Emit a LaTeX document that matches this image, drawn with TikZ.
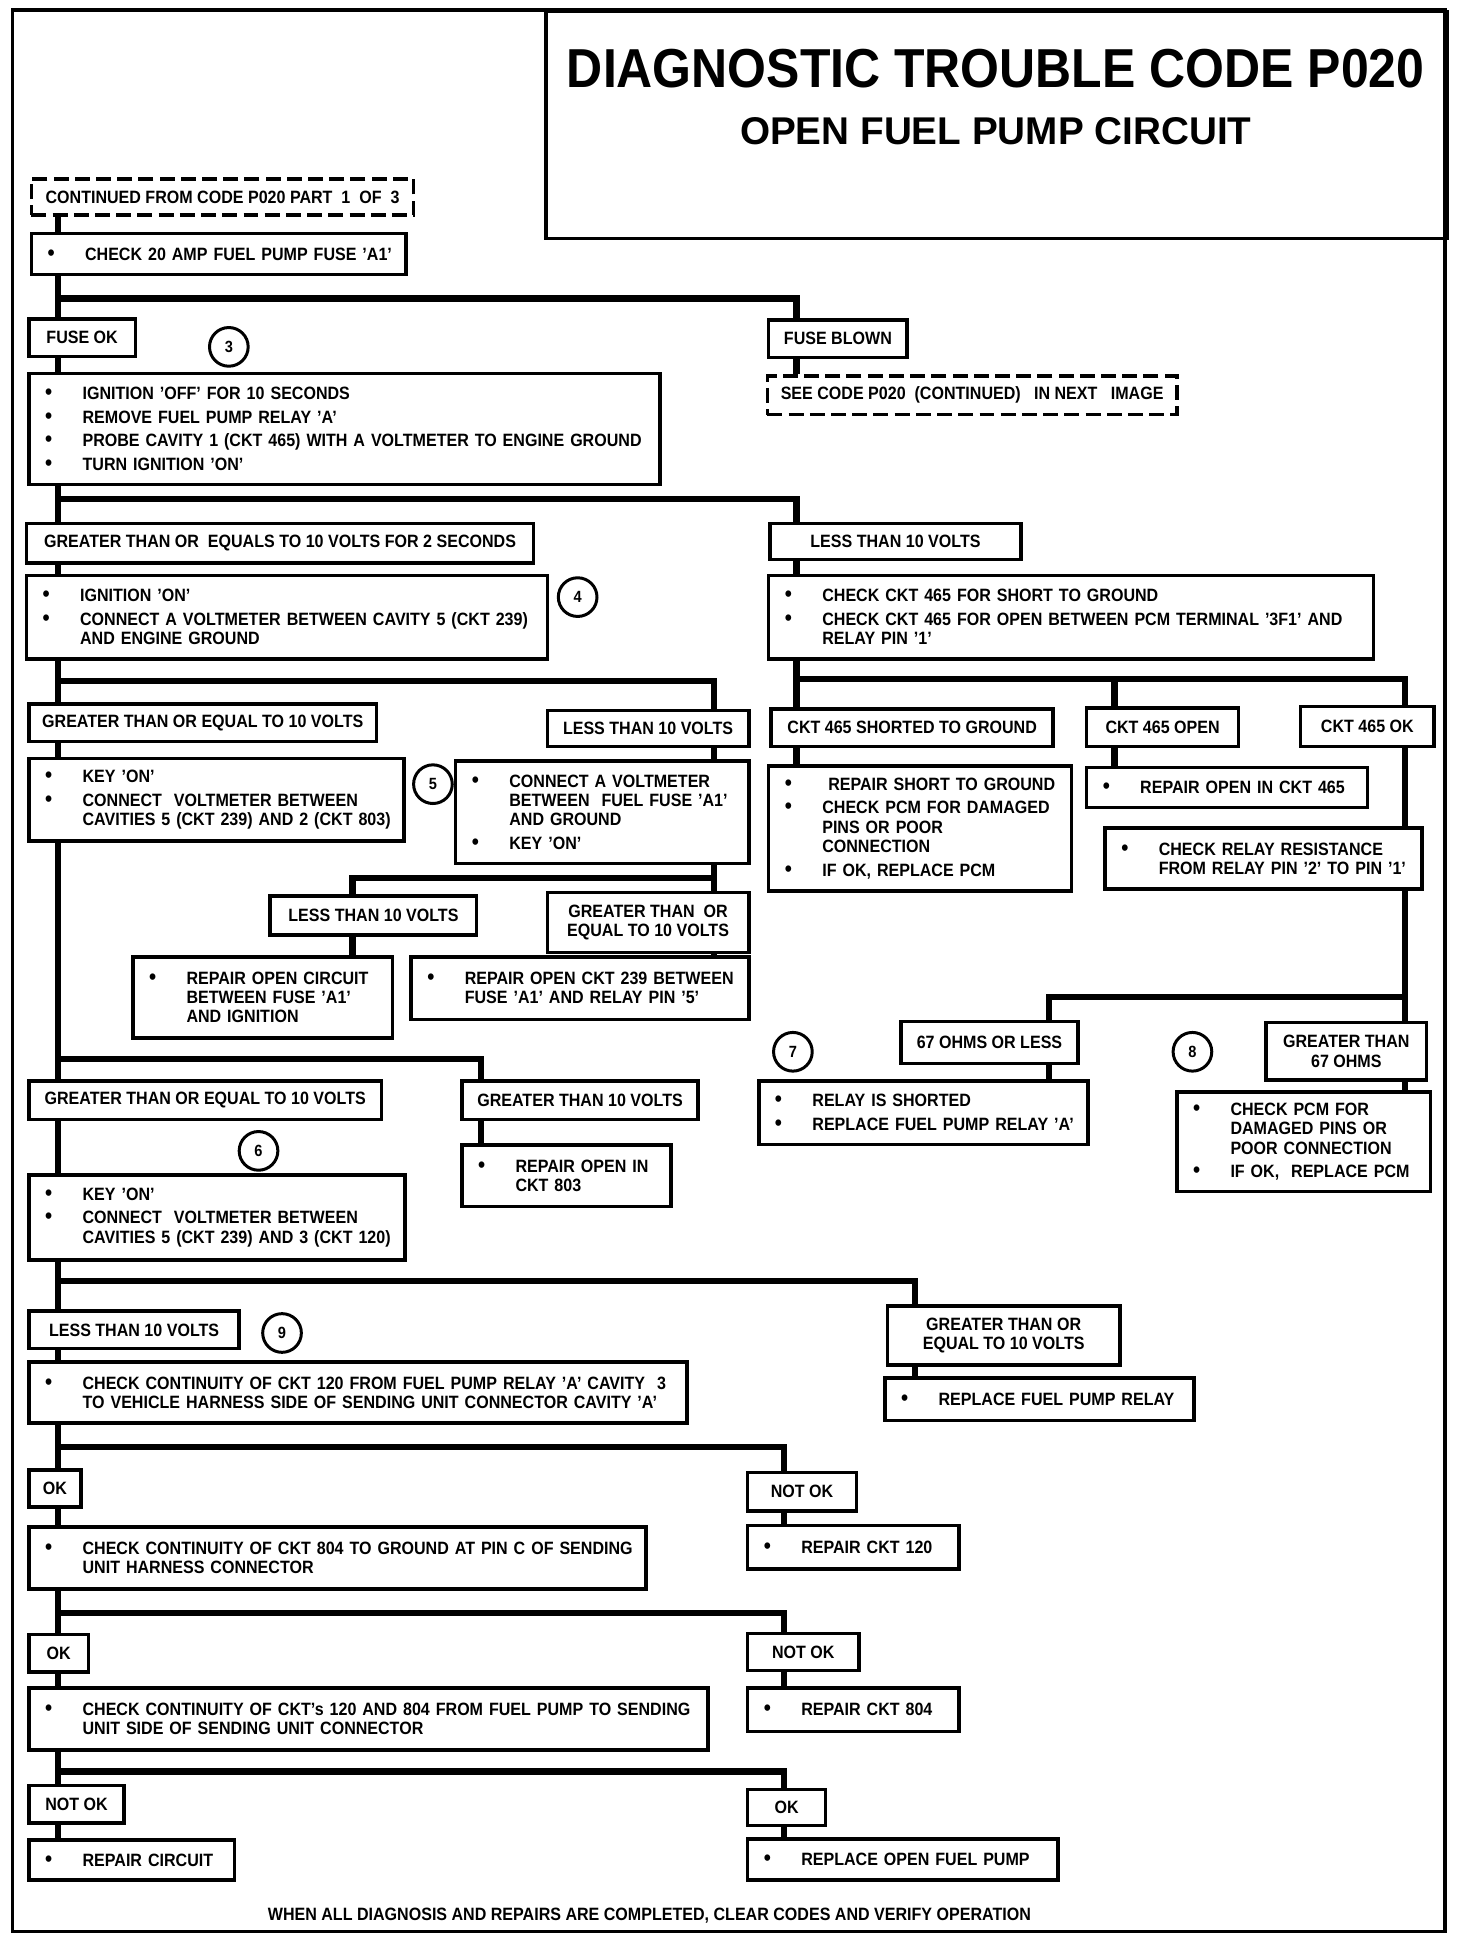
\documentclass[tikz,border=0pt]{standalone}
\usepackage{fontspec}
\setmainfont{Liberation Sans}[FakeStretch=0.9]
\newfontfamily\titlefont{Liberation Sans}[FakeStretch=0.91]
\newfontfamily\subfont{Liberation Sans}
\usetikzlibrary{backgrounds}

% bullet line and continued line inside the step boxes
\newcommand{\bitem}[1]{\mbox{\makebox[30pt][l]{\fontsize{18}{15.5}\selectfont\textbullet}#1}}
\newcommand{\bcont}[1]{\mbox{\hspace*{30pt}#1}}

\begin{document}
\begin{tikzpicture}[x=0.9915pt,y=-0.993pt,
  every node/.style={font=\bfseries\fontsize{14.3}{15.5}\selectfont},
  box/.style 2 args={draw,fill=white,line width=2.8pt,anchor=north west,
    inner xsep=13pt,inner ysep=2pt,minimum width=0.9915*#1pt,minimum height=#2pt,
    text width=0.9915*#1pt-26pt,align=left},
  lab/.style 2 args={draw,fill=white,line width=2.8pt,anchor=north west,
    inner sep=2pt,minimum width=0.9915*#1pt,minimum height=#2pt,align=center},
  cont/.style 2 args={lab={#1}{#2},dash pattern=on 12pt off 5pt},
  num/.style={draw,fill=white,circle,line width=2.4pt,minimum size=31pt,
    inner sep=0pt,font=\bfseries\fontsize{13}{13}\selectfont},
  wire/.style={line width=5pt}]

\useasboundingbox (0,0) rectangle (1190.1,1566);

% frame and title
\draw[line width=2.8pt] (10,8) rectangle (1168,1559);
\node[draw,line width=2.8pt,anchor=north west,minimum width=722pt,minimum height=182pt] (titlebox) at (440,8) {};
\node (title) at (805,55) {\titlefont\fontsize{44}{44}\selectfont DIAGNOSTIC TROUBLE CODE P020};
\node (subtitle) at (805,106) {\subfont\fontsize{31}{31}\selectfont OPEN FUEL PUMP CIRCUIT};

% columns and branch points
\coordinate (xl) at (47,0);
\coordinate (xr) at (644,0);
\coordinate (xs) at (577,0);
\coordinate (xt) at (285,0);
\coordinate (xu) at (389,0);
\coordinate (xo) at (901,0);
\coordinate (xk) at (1136,0);
\coordinate (xm) at (848,0);
\coordinate (xg) at (740,0);
\coordinate (xn) at (634,0);
\coordinate (b1) at (47,241);
\coordinate (b2) at (47,403);
\coordinate (b3) at (47,550);
\coordinate (b4) at (644,548);
\coordinate (b5) at (1136,805);
\coordinate (b6) at (577,709);
\coordinate (b7) at (47,855);
\coordinate (b8) at (47,1034);
\coordinate (b9) at (47,1168);
\coordinate (b10) at (47,1302);
\coordinate (b11) at (47,1430);

% fuse check
\node[cont={309}{29}] (contd) at (24,143) {CONTINUED FROM CODE P020 PART\ \ 1\ \ OF\ \ 3};
\node[box={303}{33}] (chkfuse) at (24,187) {\bitem{CHECK 20 AMP FUEL PUMP FUSE 'A1'}};
\node[lab={86}{30}] (fuseok) at (22,256) {FUSE OK};
\node[num] (n3) at (185,280) {3};
\node[box={510}{89}] (step3) at (22,300) {\bitem{IGNITION 'OFF' FOR 10 SECONDS}\\[3.5pt]\bitem{REMOVE FUEL PUMP RELAY 'A'}\\[3.5pt]\bitem{PROBE CAVITY 1 (CKT 465) WITH A VOLTMETER TO ENGINE GROUND}\\[3.5pt]\bitem{TURN IGNITION 'ON'}};
\node[lab={112}{30}] (fuseblown) at (620,257) {FUSE BLOWN};
\node[cont={331}{31}] (seenext) at (619,302) {SEE CODE P020\ \ (CONTINUED)\ \ \ IN NEXT\ \ \ IMAGE};

% cavity 1 voltage
\node[lab={410}{32}] (ge2s) at (20,421) {GREATER THAN OR\ \ EQUALS TO 10 VOLTS FOR 2 SECONDS};
\node[lab={203}{29}] (lt1) at (621,421) {LESS THAN 10 VOLTS};
\node[box={421}{67}] (step4) at (20,463) {\bitem{IGNITION 'ON'}\\[3.5pt]\bitem{CONNECT A VOLTMETER BETWEEN CAVITY 5 (CKT 239)}\\\bcont{AND ENGINE GROUND}};
\node[num] (n4) at (467,482) {4};
\node[box={489}{67}] (chk465) at (620,463) {\bitem{CHECK CKT 465 FOR SHORT TO GROUND}\\[3.5pt]\bitem{CHECK CKT 465 FOR OPEN BETWEEN PCM TERMINAL '3F1' AND}\\\bcont{RELAY PIN '1'}};

% cavity 5 voltage
\node[lab={281}{30}] (ge1) at (22,567) {GREATER THAN OR EQUAL TO 10 VOLTS};
\node[lab={163}{29}] (lt2) at (441,572) {LESS THAN 10 VOLTS};
\node[lab={228}{30}] (short) at (622,571) {CKT 465 SHORTED TO GROUND};
\node[lab={123}{31}] (open) at (877,570) {CKT 465 OPEN};
\node[lab={108}{32}] (ok465) at (1050,569) {CKT 465 OK};
\node[box={303}{66}] (step5a) at (22,611) {\bitem{KEY 'ON'}\\[3.5pt]\bitem{CONNECT\ \ VOLTMETER BETWEEN}\\\bcont{CAVITIES 5 (CKT 239) AND 2 (CKT 803)}};
\node[num] (n5) at (350,633) {5};
\node[box={237}{82}] (step5b) at (367,613) {\bitem{CONNECT A VOLTMETER}\\\bcont{BETWEEN\ \ FUEL FUSE 'A1'}\\\bcont{AND GROUND}\\[3.5pt]\bitem{KEY 'ON'}};
\node[box={245}{100}] (repshort) at (620,617) {\bitem{\ REPAIR SHORT TO GROUND}\\[3.5pt]\bitem{CHECK PCM FOR DAMAGED}\\\bcont{PINS OR POOR}\\\bcont{CONNECTION}\\[3.5pt]\bitem{IF OK, REPLACE PCM}};
\node[box={227}{32}] (repopen) at (877,618) {\bitem{REPAIR OPEN IN CKT 465}};
\node[box={256}{49}] (relayres) at (892,667) {\bitem{CHECK RELAY RESISTANCE}\\\bcont{FROM RELAY PIN '2' TO PIN '1'}};

% fuse A1 voltage
\node[lab={167}{31}] (lt3) at (217,722) {LESS THAN 10 VOLTS};
\node[lab={163}{48}] (ge3) at (441,719) {GREATER THAN\ \ OR\\EQUAL TO 10 VOLTS};
\node[box={210}{65}] (repign) at (106,771) {\bitem{REPAIR OPEN CIRCUIT}\\\bcont{BETWEEN FUSE 'A1'}\\\bcont{AND IGNITION}};
\node[box={273}{50}] (rep239) at (331,771) {\bitem{REPAIR OPEN CKT 239 BETWEEN}\\\bcont{FUSE 'A1' AND RELAY PIN '5'}};

% cavities 5 and 2
\node[lab={285}{31}] (ge4) at (22,871) {GREATER THAN OR EQUAL TO 10 VOLTS};
\node[lab={191}{31}] (gt5) at (372,871) {GREATER THAN 10 VOLTS};
\node[num] (n6) at (209,929) {6};
\node[box={169}{49}] (rep803) at (372,923) {\bitem{REPAIR OPEN IN}\\\bcont{CKT 803}};
\node[box={304}{68}] (step6) at (22,947) {\bitem{KEY 'ON'}\\[3.5pt]\bitem{CONNECT\ \ VOLTMETER BETWEEN}\\\bcont{CAVITIES 5 (CKT 239) AND 3 (CKT 120)}};

% relay resistance
\node[lab={143}{34}] (le67) at (727,823) {67 OHMS OR LESS};
\node[num] (n7) at (641,849) {7};
\node[box={266}{51}] (shorted) at (612,871) {\bitem{RELAY IS SHORTED}\\[3.5pt]\bitem{REPLACE FUEL PUMP RELAY 'A'}};
\node[num] (n8) at (964,849) {8};
\node[lab={130}{46}] (gt67) at (1022,824) {GREATER THAN\\67 OHMS};
\node[box={205}{80}] (pcm) at (950,880) {\bitem{CHECK PCM FOR}\\\bcont{DAMAGED PINS OR}\\\bcont{POOR CONNECTION}\\[3.5pt]\bitem{IF OK,\ \ REPLACE PCM}};

% cavities 5 and 3
\node[lab={170}{30}] (lt6) at (22,1057) {LESS THAN 10 VOLTS};
\node[num] (n9) at (228,1076) {9};
\node[box={532}{49}] (step9) at (22,1098) {\bitem{CHECK CONTINUITY OF CKT 120 FROM FUEL PUMP RELAY 'A' CAVITY\ \ 3}\\\bcont{TO VEHICLE HARNESS SIDE OF SENDING UNIT CONNECTOR CAVITY 'A'}};
\node[lab={188}{47}] (ge6) at (716,1053) {GREATER THAN OR\\EQUAL TO 10 VOLTS};
\node[box={250}{34}] (reprelay) at (714,1111) {\bitem{REPLACE FUEL PUMP RELAY}};

% continuity checks
\node[lab={42}{30}] (ok1) at (22,1185) {OK};
\node[lab={88}{31}] (nok1) at (603,1187) {NOT OK};
\node[box={499}{50}] (chk804) at (22,1231) {\bitem{CHECK CONTINUITY OF CKT 804 TO GROUND AT PIN C OF SENDING}\\\bcont{UNIT HARNESS CONNECTOR}};
\node[box={171}{35}] (rep120) at (603,1230) {\bitem{REPAIR CKT 120}};
\node[lab={48}{30}] (ok2) at (22,1318) {OK};
\node[lab={90}{30}] (nok2) at (603,1317) {NOT OK};
\node[box={549}{50}] (chkpump) at (22,1361) {\bitem{CHECK CONTINUITY OF CKT's 120 AND 804 FROM FUEL PUMP TO SENDING}\\\bcont{UNIT SIDE OF SENDING UNIT CONNECTOR}};
\node[box={171}{35}] (rep804) at (603,1361) {\bitem{REPAIR CKT 804}};
\node[lab={77}{30}] (nok3) at (22,1440) {NOT OK};
\node[lab={63}{29}] (ok3) at (603,1443) {OK};
\node[box={166}{32}] (repcirc) at (22,1484) {\bitem{REPAIR CIRCUIT}};
\node[box={251}{33}] (reppump) at (603,1483) {\bitem{REPLACE OPEN FUEL PUMP}};

\node (footer) at (525,1546) {WHEN ALL DIAGNOSIS AND REPAIRS ARE COMPLETED, CLEAR CODES AND VERIFY OPERATION};

% connectors
\begin{scope}[on background layer]
\draw[wire] (contd.south -| xl) -- (chkfuse.north -| xl);
\draw[wire] (chkfuse.south -| xl) -- (fuseok.north -| xl);
\draw[wire] (b1) -| (fuseblown.north -| xr);
\draw[wire] (fuseok.south -| xl) -- (step3.north -| xl);
\draw[wire] (fuseblown.south -| xr) -- (seenext.north -| xr);
\draw[wire] (step3.south -| xl) -- (ge2s.north -| xl);
\draw[wire] (b2) -| (lt1.north -| xr);
\draw[wire] (ge2s.south -| xl) -- (step4.north -| xl);
\draw[wire] (lt1.south -| xr) -- (chk465.north -| xr);
\draw[wire] (step4.south -| xl) -- (ge1.north -| xl);
\draw[wire] (b3) -| (lt2.north -| xs);
\draw[wire] (ge1.south -| xl) -- (step5a.north -| xl);
\draw[wire] (lt2.south -| xs) -- (step5b.north -| xs);
\draw[wire] (chk465.south -| xr) -- (short.north -| xr);
\draw[wire] (b4) -| (ok465.north -| xk);
\draw[wire] (b4 -| xo) -- (open.north -| xo);
\draw[wire] (short.south -| xr) -- (repshort.north -| xr);
\draw[wire] (open.south -| xo) -- (repopen.north -| xo);
\draw[wire] (ok465.south -| xk) -- (relayres.north -| xk);
\draw[wire] (relayres.south -| xk) -- (b5);
\draw[wire] (b5) -| (le67.north -| xm);
\draw[wire] (b5) -- (gt67.north -| xk);
\draw[wire] (le67.south -| xm) -- (shorted.north -| xm);
\draw[wire] (gt67.south -| xk) -- (pcm.north -| xk);
\draw[wire] (step5b.south -| xs) -- (b6);
\draw[wire] (b6) -| (lt3.north -| xt);
\draw[wire] (b6) -- (ge3.north -| xs);
\draw[wire] (lt3.south -| xt) -- (repign.north -| xt);
\draw[wire] (ge3.south -| xs) -- (rep239.north -| xs);
\draw[wire] (step5a.south -| xl) -- (ge4.north -| xl);
\draw[wire] (b7) -| (gt5.north -| xu);
\draw[wire] (ge4.south -| xl) -- (step6.north -| xl);
\draw[wire] (gt5.south -| xu) -- (rep803.north -| xu);
\draw[wire] (step6.south -| xl) -- (lt6.north -| xl);
\draw[wire] (b8) -| (ge6.north -| xg);
\draw[wire] (lt6.south -| xl) -- (step9.north -| xl);
\draw[wire] (ge6.south -| xg) -- (reprelay.north -| xg);
\draw[wire] (step9.south -| xl) -- (ok1.north -| xl);
\draw[wire] (b9) -| (nok1.north -| xn);
\draw[wire] (ok1.south -| xl) -- (chk804.north -| xl);
\draw[wire] (nok1.south -| xn) -- (rep120.north -| xn);
\draw[wire] (chk804.south -| xl) -- (ok2.north -| xl);
\draw[wire] (b10) -| (nok2.north -| xn);
\draw[wire] (ok2.south -| xl) -- (chkpump.north -| xl);
\draw[wire] (nok2.south -| xn) -- (rep804.north -| xn);
\draw[wire] (chkpump.south -| xl) -- (nok3.north -| xl);
\draw[wire] (b11) -| (ok3.north -| xn);
\draw[wire] (nok3.south -| xl) -- (repcirc.north -| xl);
\draw[wire] (ok3.south -| xn) -- (reppump.north -| xn);
\end{scope}

\end{tikzpicture}
\end{document}
